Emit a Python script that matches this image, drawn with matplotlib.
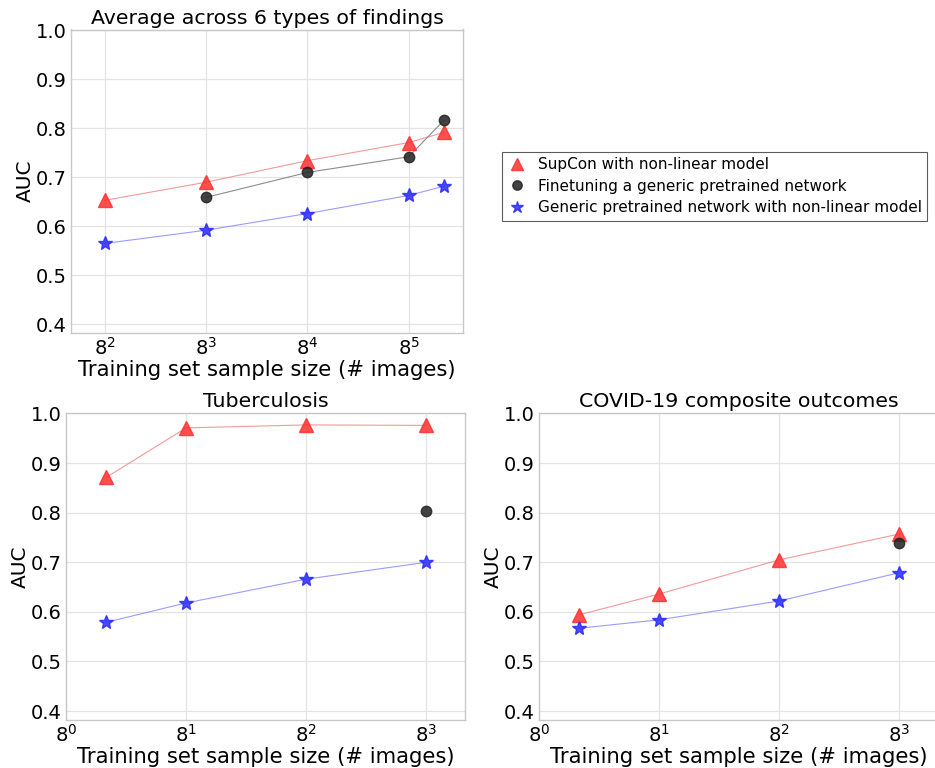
import matplotlib
matplotlib.use("Agg")
import matplotlib.pyplot as plt
from matplotlib.ticker import FixedLocator, NullLocator

# Training set sizes (number of images)
avg_sizes = [64, 512, 4096, 32768, 68000]
tb_sizes = [2, 8, 64, 512]
covid_sizes = [2, 8, 64, 512]

# Average across 6 types of findings
avg_supcon = [0.653, 0.690, 0.734, 0.771, 0.792]
avg_finetune_sizes = [512, 4096, 32768, 68000]
avg_finetune = [0.659, 0.710, 0.742, 0.817]
avg_generic = [0.565, 0.592, 0.626, 0.663, 0.682]

# Tuberculosis
tb_supcon = [0.871, 0.971, 0.977, 0.976]
tb_finetune_sizes = [512]
tb_finetune = [0.803]
tb_generic = [0.579, 0.618, 0.666, 0.700]

# COVID-19 composite outcomes
covid_supcon = [0.594, 0.636, 0.705, 0.757]
covid_finetune_sizes = [512]
covid_finetune = [0.738]
covid_generic = [0.567, 0.584, 0.622, 0.679]

labels = ["SupCon with non-linear model",
          "Finetuning a generic pretrained network",
          "Generic pretrained network with non-linear model"]

avg_ticks = [8**2, 8**3, 8**4, 8**5]
avg_ticklabels = [r"$8^2$", r"$8^3$", r"$8^4$", r"$8^5$"]
small_ticks = [8**0, 8**1, 8**2, 8**3]
small_ticklabels = [r"$8^0$", r"$8^1$", r"$8^2$", r"$8^3$"]

plt.rcParams["font.family"] = ["DejaVu Sans"]
plt.rcParams["mathtext.fontset"] = "dejavusans"

W, H = 935, 768
fig = plt.figure(figsize=(W / 100, H / 100), dpi=100)


def px_axes(x0, y0, x1, y1):
    return fig.add_axes([x0 / W, 1 - y1 / H, (x1 - x0) / W, (y1 - y0) / H])


def draw(ax, title, sizes, supcon, ft_sizes, ft, generic, xlim, ticks, ticklabels):
    ax.set_xscale("log", base=8)
    ax.plot(sizes, supcon, color="#f08080", lw=0.8, alpha=0.8, zorder=2)
    ax.plot(sizes, supcon, ls="none", marker="^", ms=10, color="#ff3030",
            alpha=0.85, zorder=4, label=labels[0])
    if len(ft_sizes) > 1:
        ax.plot(ft_sizes, ft, color="#808080", lw=0.8, alpha=0.9, zorder=2)
    ax.plot(ft_sizes, ft, ls="none", marker="o", ms=7.5, color="#222222",
            alpha=0.85, zorder=4, label=labels[1])
    ax.plot(sizes, generic, color="#9090ff", lw=0.8, alpha=0.9, zorder=2)
    ax.plot(sizes, generic, ls="none", marker="*", ms=10, color="#2a2aff",
            alpha=0.85, zorder=4, label=labels[2])
    ax.set_xlim(*xlim)
    ax.set_ylim(0.382, 1.002)
    ax.xaxis.set_major_locator(FixedLocator(ticks))
    ax.set_xticklabels(ticklabels)
    ax.xaxis.set_minor_locator(NullLocator())
    ax.set_yticks([0.4, 0.5, 0.6, 0.7, 0.8, 0.9, 1.0])
    ax.set_yticklabels(["0.4", "0.5", "0.6", "0.7", "0.8", "0.9", "1.0"])
    ax.tick_params(axis="both", labelsize=14, length=0, pad=3)
    ax.grid(True, color="#e3e3e3", lw=0.9)
    ax.set_axisbelow(True)
    for s in ax.spines.values():
        s.set_color("#c8c8c8")
        s.set_linewidth(1.0)
    ax.set_title(title, fontsize=14.75, pad=4)
    ax.set_xlabel("Training set sample size (# images)", fontsize=15.2, labelpad=1)
    ax.set_ylabel("AUC", fontsize=14.5, labelpad=1)


ax1 = px_axes(71, 29.5, 463, 333)
draw(ax1, "Average across 6 types of findings", avg_sizes, avg_supcon,
     avg_finetune_sizes, avg_finetune, avg_generic, (32, 100000),
     avg_ticks, avg_ticklabels)

ax2 = px_axes(66, 412.5, 465, 720)
draw(ax2, "Tuberculosis", tb_sizes, tb_supcon, tb_finetune_sizes, tb_finetune,
     tb_generic, (1, 1000), small_ticks, small_ticklabels)

ax3 = px_axes(539, 412.5, 938, 720)
draw(ax3, "COVID-19 composite outcomes", covid_sizes, covid_supcon,
     covid_finetune_sizes, covid_finetune, covid_generic, (1, 1000),
     small_ticks, small_ticklabels)

handles, labs = ax1.get_legend_handles_labels()
leg = fig.legend(handles, labs, loc="upper left",
                 bbox_to_anchor=(502 / W, 1 - 152 / H), fontsize=11.0,
                 frameon=True, fancybox=False, borderpad=0.35,
                 handletextpad=0.8, labelspacing=0.42, handlelength=1.2,
                 markerscale=0.9, borderaxespad=0)
leg.get_frame().set_edgecolor("#333333")
leg.get_frame().set_linewidth(0.8)

fig.savefig("out.png", dpi=100)
